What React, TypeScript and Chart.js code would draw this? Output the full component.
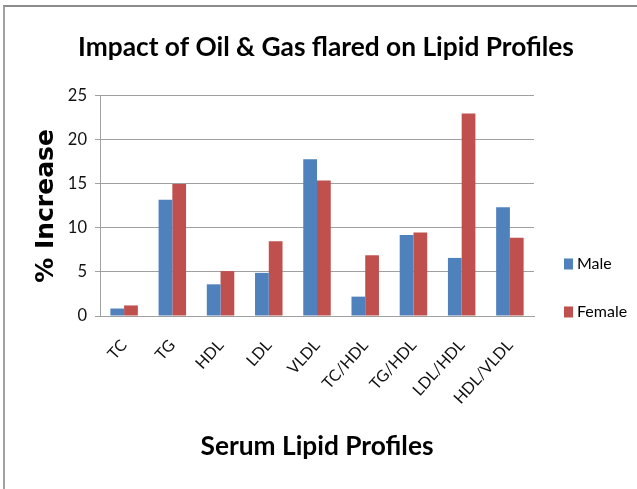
import { useEffect, useRef } from "react";
import { Chart, registerables } from "chart.js";

Chart.register(...registerables);

const categories = ["TC", "TG", "HDL", "LDL", "VLDL", "TC/HDL", "TG/HDL", "LDL/HDL", "HDL/VLDL"];
const seriesNames = ["Male", "Female"];
const maleValues = [0.85, 13.2, 3.6, 4.9, 17.8, 2.2, 9.2, 6.6, 12.35];
const femaleValues = [1.2, 15.0, 5.1, 8.5, 15.4, 6.9, 9.5, 23.0, 8.9];
const yTickValues = [0, 5, 10, 15, 20, 25];

const chartTitle = "Impact of Oil & Gas flared on Lipid Profiles";
const xTitle = "Serum Lipid Profiles";
const yTitle = "% Increase";

const MALE_COLOR = "#4F81BD";
const FEMALE_COLOR = "#C0504D";

const sideLegend = {
  id: "sideLegend",
  afterDraw(chart: any) {
    const { ctx, chartArea } = chart;
    const midY = (chartArea.top + chartArea.bottom) / 2;
    ctx.save();
    ctx.font = "16px Lato";
    ctx.textBaseline = "middle";
    ctx.textAlign = "left";
    chart.data.datasets.forEach((ds: any, i: number) => {
      const cy = midY + 58 + i * 48;
      const bx = chartArea.right + 30;
      ctx.fillStyle = ds.backgroundColor;
      ctx.fillRect(bx, cy - 5.5, 9, 11);
      ctx.fillStyle = "#000";
      ctx.fillText(ds.label, bx + 13, cy);
    });
    ctx.restore();
  },
};

export default function App() {
  const canvasRef = useRef<HTMLCanvasElement | null>(null);

  useEffect(() => {
    let chart: Chart | null = null;
    let cancelled = false;
    const make = () => {
      if (cancelled || !canvasRef.current) return;
      chart = new Chart(canvasRef.current, {
        type: "bar",
        data: {
          labels: categories,
          datasets: [
            {
              label: seriesNames[0],
              data: maleValues,
              backgroundColor: MALE_COLOR,
              borderWidth: 0,
              categoryPercentage: 0.57,
              barPercentage: 1,
            },
            {
              label: seriesNames[1],
              data: femaleValues,
              backgroundColor: FEMALE_COLOR,
              borderWidth: 0,
              categoryPercentage: 0.57,
              barPercentage: 1,
            },
          ],
        },
        options: {
          responsive: false,
          animation: false,
          devicePixelRatio: 1,
          layout: { padding: { left: 15, right: 0, top: 0, bottom: 0 } },
          plugins: {
            legend: { display: false },
            tooltip: { enabled: false },
            title: {
              display: true,
              text: chartTitle,
              color: "#000",
              font: { family: "Lato", size: 26.3, weight: "bold", lineHeight: 1.2 },
              padding: { top: 32.2, bottom: 32.2 },
            },
          },
          scales: {
            x: {
              grid: { display: false },
              border: { display: true, color: "#a0a0a0", width: 1 },
              ticks: {
                color: "#111",
                font: { family: "Lato", size: 16 },
                minRotation: 48,
                maxRotation: 48,
                padding: 12,
                autoSkip: false,
              },
              title: {
                display: true,
                text: xTitle,
                color: "#000",
                font: { family: "Lato", size: 26.3, weight: "bold", lineHeight: 1.2 },
                padding: { top: 0, bottom: 27 },
              },
              afterFit(s: any) {
                s.height = 173;
              },
            },
            y: {
              min: 0,
              max: 25,
              afterBuildTicks(s: any) {
                s.ticks = yTickValues.map((v) => ({ value: v }));
              },
              ticks: {
                color: "#111",
                font: { family: "Lato", size: 16.5 },
                padding: 8,
              },
              grid: { color: "#a0a0a0", tickLength: 5, drawTicks: true },
              border: { display: true, color: "#a0a0a0" },
              title: {
                display: true,
                text: yTitle,
                color: "#000",
                font: { family: "DejaVu Sans", size: 25, weight: "bold", lineHeight: 1.2 },
                padding: { top: 16, bottom: 0 },
              },
              afterFit(s: any) {
                s.width = 85;
              },
            },
            legendSpace: {
              type: "linear",
              position: "right",
              display: true,
              grid: { display: false },
              ticks: { display: false },
              border: { display: false },
              afterFit(s: any) {
                s.width = 103;
              },
            },
          },
        } as any,
        plugins: [sideLegend],
      });
    };
    const fonts: any = (document as any).fonts;
    if (fonts && fonts.load) {
      Promise.all([
        fonts.load("16px Lato"),
        fonts.load("bold 26px Lato"),
        fonts.load("bold 25px 'DejaVu Sans'"),
      ])
        .catch(() => undefined)
        .then(make);
    } else {
      make();
    }
    return () => {
      cancelled = true;
      if (chart) chart.destroy();
    };
  }, []);

  return (
    <div style={{ position: "fixed", left: 0, top: 0, width: 637, height: 489, background: "#fff" }}>
      <div
        style={{
          position: "absolute",
          left: 3,
          top: 5,
          width: 634,
          height: 484,
          boxSizing: "border-box",
          borderTop: "2px solid #8c8c8c",
          borderLeft: "2px solid #a0a0a0",
        }}
      />
      <canvas
        ref={canvasRef}
        width={637}
        height={489}
        style={{ position: "absolute", left: 0, top: 0, width: 637, height: 489 }}
      />
    </div>
  );
}
